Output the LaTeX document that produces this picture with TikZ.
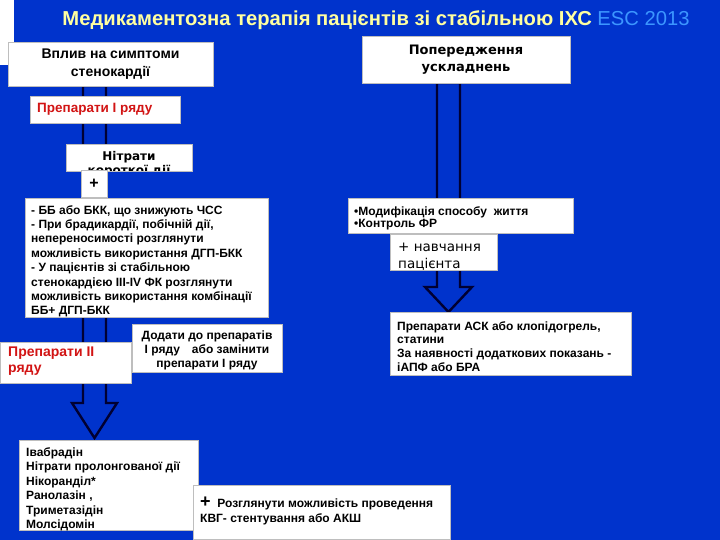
\documentclass[tikz,border=0pt]{standalone}
\usepackage{fontspec}
\setmainfont{Liberation Sans}
\newfontfamily\dv{DejaVu Sans}
\definecolor{bg}{RGB}{0,51,204}
\definecolor{ttl}{RGB}{255,255,160}
\definecolor{esc}{RGB}{60,150,255}
\definecolor{redt}{RGB}{210,20,20}
\definecolor{navy}{RGB}{0,0,50}
\definecolor{edge}{RGB}{190,190,190}
\tikzset{
  wbox/.style={draw=edge,line width=0.6pt,fill=white,inner sep=0pt,outer sep=0pt},
  barrow/.style={fill=bg,draw=navy,line width=2.4pt,line join=miter},
  btext/.style={font=\fontsize{12}{14.4}\selectfont\bfseries,align=left,inner sep=0pt,anchor=north west},
}
\begin{document}
\begin{tikzpicture}[x=1pt,y=-1pt]
\fill[bg] (0,0) rectangle (720,540);
\useasboundingbox (0,0) rectangle (720,540);
\fill[white] (0,0) rectangle (14,65);
% title
\node[inner sep=0pt] (title) at (376,20) {\fontsize{20.2}{22}\selectfont\bfseries\color{ttl}Медикаментозна терапія пацієнтів зі стабільною ІХС \mdseries\color{esc}ESC 2013};
% block arrows
\draw[barrow] (83,86) -- (106,86) -- (106,403) -- (117,403) -- (94.5,438) -- (72,403) -- (83,403) -- cycle;
\draw[barrow] (437,83) -- (460,83) -- (460,287) -- (472,287) -- (448.5,312) -- (425,287) -- (437,287) -- cycle;
% left column
\node[wbox,minimum width=205,minimum height=44,align=center,font=\fontsize{14}{17.5}\selectfont\bfseries] (symp) at (110.5,64) {Вплив на симптоми\\стенокардії};
\node[wbox,minimum width=150,minimum height=27] (first) at (105,109.5) {};
\node[btext,anchor=west,font=\fontsize{13.5}{14}\selectfont\bfseries,text=redt] (firstt) at (37,109.5) {Препарати І ряду};
\node[wbox,minimum width=126,minimum height=27] (nitr) at (129,157.5) {};
\begin{scope}
\clip (66,144) rectangle (192,171);
\node[inner sep=0pt,align=center,anchor=north,font=\dv\fontsize{12}{14}\selectfont\bfseries] (nitrt) at (129,151) {Нітрати\\короткої дії};
\end{scope}
\node[wbox,minimum width=26,minimum height=27,font=\fontsize{16}{16}\selectfont\bfseries] (plus1) at (94,184) {+};
\node[wbox,minimum width=243,minimum height=119] (bb) at (146.5,257.5) {};
\node[btext] (bbt) at (31,205) {- ББ або БКК, що знижують ЧСС\\- При брадикардії, побічній дії,\\непереносимості розглянути\\можливість використання ДГП-БКК\\- У пацієнтів зі стабільною\\стенокардією ІІІ-IV ФК розглянути\\можливість використання комбінації\\ББ+ ДГП-БКК};
\node[wbox,minimum width=131,minimum height=41] (second) at (65.5,362.5) {};
\node[btext,font=\fontsize{14}{15.5}\selectfont\bfseries,text=redt] (secondt) at (8,347) {Препарати ІІ\\ряду};
\node[wbox,minimum width=150,minimum height=48] (add) at (207,348.5) {};
\node[inner sep=0pt,align=center,anchor=north,font=\fontsize{12}{14}\selectfont\bfseries] (addt) at (207,331) {Додати до препаратів\\І ряду\quad або замінити\\препарати І ряду};
\node[wbox,minimum width=179,minimum height=90] (ivab) at (108.5,485) {};
\node[btext] (ivabt) at (26,447.5) {Івабрадін\\Нітрати пролонгованої дії\\Нікоранділ*\\Ранолазін ,\\Триметазідін\\Молсідомін};
\node[wbox,minimum width=257,minimum height=54] (kvg) at (321.5,512) {};
\node[btext,anchor=west] (kvgt) at (200,503) {{\fontsize{18}{14}\selectfont +}\ \ Розглянути можливість проведення};
\node[btext,anchor=west] (kvgt2) at (200,519.5) {КВГ- стентування або АКШ};
% right column
\node[wbox,minimum width=208,minimum height=47,align=center,font=\dv\fontsize{13}{17}\selectfont\bfseries] (prev) at (466,59.5) {Попередження\\ускладнень};
\node[wbox,minimum width=225,minimum height=35] (mod) at (460.5,215.5) {};
\node[btext,font=\fontsize{12}{12.8}\selectfont\bfseries] (modt) at (354,206) {•Модифікація способу\ \ життя\\•Контроль ФР};
\node[wbox,minimum width=107,minimum height=36] (edu) at (443.5,252) {};
\begin{scope}
\clip (390,234) rectangle (497,270);
\node[inner sep=0pt,align=left,anchor=north west,font=\dv\fontsize{13.5}{17}\selectfont] (edut) at (398,243) {+ навчання\\пацієнта};
\end{scope}
\node[wbox,minimum width=241,minimum height=63] (ask) at (510.5,343.5) {};
\node[btext,font=\fontsize{12}{13.8}\selectfont\bfseries] (askt) at (397,321) {Препарати АСК або клопідогрель,\\статини\\За наявності додаткових показань -\\іАПФ або БРА};
\end{tikzpicture}
\end{document}
